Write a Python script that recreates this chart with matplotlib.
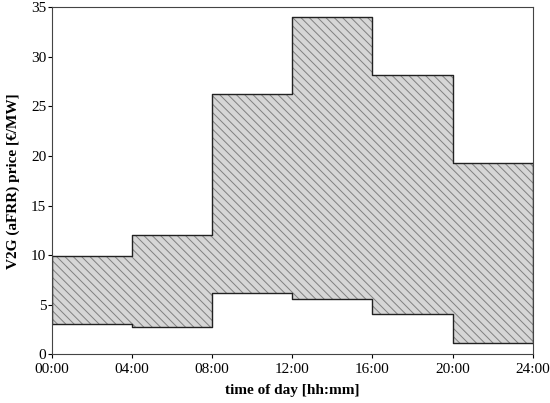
import matplotlib
matplotlib.use('Agg')
import matplotlib.pyplot as plt
import numpy as np

# 4-hour blocks over the day
block_start = [0, 4, 8, 12, 16, 20, 24]
tick_labels = ['00:00', '04:00', '08:00', '12:00', '16:00', '20:00', '24:00']
price_high = [9.9, 12.0, 26.3, 34.0, 28.2, 19.3]
price_low = [3.1, 2.7, 6.2, 5.6, 4.1, 1.1]

plt.rcParams['font.family'] = ['Liberation Serif', 'DejaVu Serif']
plt.rcParams['hatch.color'] = '#808080'
plt.rcParams['hatch.linewidth'] = 0.7

fig = plt.figure(figsize=(5.5, 4.03), dpi=100)
ax = fig.add_axes([0.0945, 0.121, 0.874, 0.861])

x = np.array(block_start)
hi = np.append(price_high, price_high[-1])
lo = np.append(price_low, price_low[-1])

ax.fill_between(x, lo, hi, step='post', facecolor='#d6d6d6', edgecolor='#808080',
                hatch='\\\\\\\\', linewidth=0)
ax.step(x, hi, where='post', color='#222222', lw=1)
ax.step(x, lo, where='post', color='#222222', lw=1)
# vertical closing edges at the ends
ax.plot([x[0], x[0]], [lo[0], hi[0]], color='#222222', lw=1)
ax.plot([x[-1], x[-1]], [lo[-1], hi[-1]], color='#222222', lw=1)

ax.set_xlim(0, 24)
ax.set_ylim(0, 35)
ax.set_xticks(block_start)
ax.set_xticklabels(tick_labels)
ax.set_yticks(range(0, 36, 5))
ax.tick_params(direction='out', length=3, labelsize=11, pad=1)
ax.tick_params(axis='x', pad=3)
for s in ax.spines.values():
    s.set_color('#444444')

ax.set_xlabel('time of day [hh:mm]', fontsize=11, fontweight='bold', labelpad=6)
ax.set_ylabel('V2G (aFRR) price [€/MW]', fontsize=11, fontweight='bold', labelpad=8)

plt.savefig('out.png', dpi=100)
